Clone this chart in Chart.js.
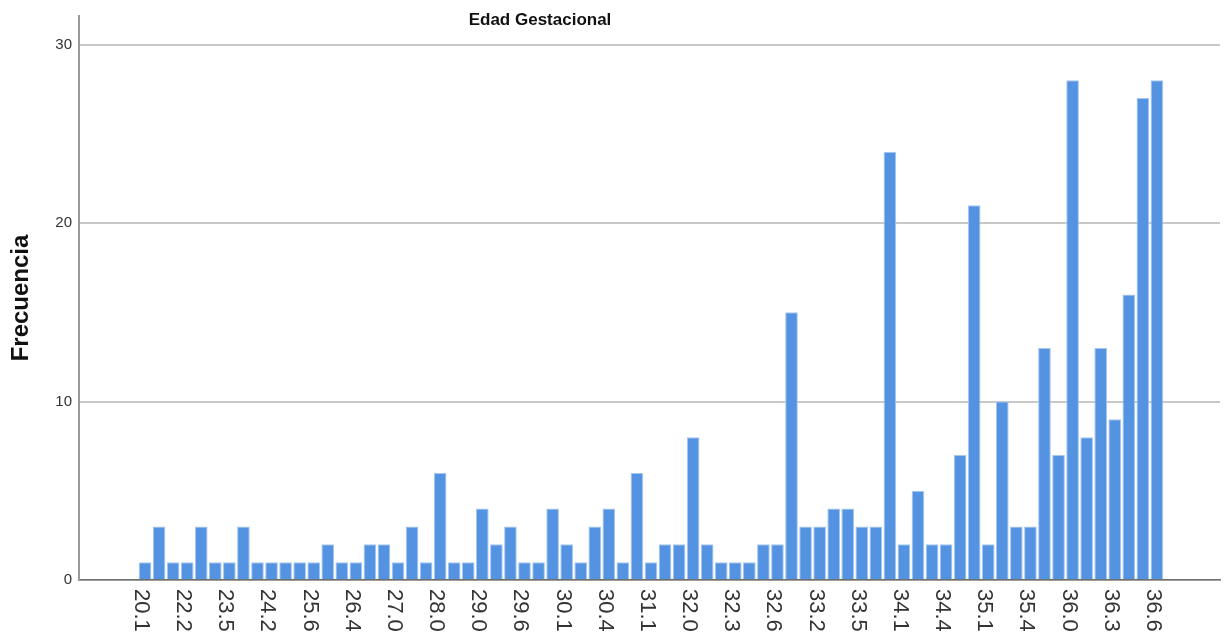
<!DOCTYPE html>
<html>
<head>
<meta charset="utf-8">
<script src="https://cdn.jsdelivr.net/npm/chart.js@4/dist/chart.umd.min.js"></script>
<style>
  body { margin: 0; background: #fff; }
</style>
</head>
<body>
<canvas id="edad-chart" width="1228" height="635"></canvas>
<script>
// edad gestacional (semanas) - solo se ve una de cada tres en el eje
const edades = [
  '20.1', '21.0', '21.4', '22.2', '22.5', '23.0', '23.5', '23.6', '24.0', '24.2',
  '24.5', '25.0', '25.6', '26.0', '26.2', '26.4', '26.5', '26.6', '27.0', '27.3',
  '27.5', '28.0', '28.3', '28.5', '29.0', '29.2', '29.4', '29.6', '29.8', '30.0',
  '30.1', '30.2', '30.3', '30.4', '30.5', '31.0', '31.1', '31.3', '31.5', '32.0',
  '32.1', '32.2', '32.3', '32.4', '32.5', '32.6', '33.0', '33.1', '33.2', '33.3',
  '33.4', '33.5', '33.6', '34.0', '34.1', '34.2', '34.3', '34.4', '34.6', '35.0',
  '35.1', '35.2', '35.3', '35.4', '35.5', '35.6', '36.0', '36.1', '36.2', '36.3',
  '36.4', '36.5', '36.6'
];
const frecuencias = [
  1, 3, 1, 1, 3, 1, 1, 3, 1, 1,
  1, 1, 1, 2, 1, 1, 2, 2, 1, 3,
  1, 6, 1, 1, 4, 2, 3, 1, 1, 4,
  2, 1, 3, 4, 1, 6, 1, 2, 2, 8,
  2, 1, 1, 1, 2, 2, 15, 3, 3, 4,
  4, 3, 3, 24, 2, 5, 2, 2, 7, 21,
  2, 10, 3, 3, 13, 7, 28, 8, 13, 9,
  16, 27, 28
];
const yTicks = [0, 10, 20, 30];
const cadaN = 3;
const tituloGrafico = 'Edad Gestacional';
const tituloEjeY = 'Frecuencia';

const fuente = '"Liberation Sans", Arial, sans-serif';

// etiquetas del eje x giradas hacia abajo + titulo
const textosExtra = {
  id: 'textosExtra',
  afterDraw(chart) {
    const { ctx } = chart;
    const x = chart.scales.x;
    ctx.save();
    ctx.font = '22px ' + fuente;
    ctx.fillStyle = '#333';
    ctx.textAlign = 'left';
    ctx.textBaseline = 'middle';
    edades.forEach((edad, i) => {
      if (i % cadaN !== 0) return;
      ctx.save();
      ctx.translate(x.getPixelForValue(i) - 4, x.top + 9);
      ctx.rotate(Math.PI / 2);
      ctx.fillText(edad, 0, 0);
      ctx.restore();
    });

    ctx.font = 'bold 17px ' + fuente;
    ctx.fillStyle = '#111';
    ctx.textAlign = 'center';
    ctx.fillText(tituloGrafico, 540, 20);
    ctx.restore();
  }
};

const ctx = document.getElementById('edad-chart').getContext('2d');
new Chart(ctx, {
  type: 'bar',
  data: {
    datasets: [{
      label: tituloEjeY,
      data: frecuencias.map((v, i) => ({ x: i, y: v })),
      backgroundColor: '#5393e2',
      borderColor: '#a6c6ef',
      borderWidth: 1,
      barPercentage: 0.9,
      categoryPercentage: 1
    }]
  },
  options: {
    responsive: false,
    animation: false,
    layout: { padding: { top: 15, right: 8, left: 0, bottom: 0 } },
    plugins: {
      legend: { display: false },
      tooltip: { enabled: false }
    },
    scales: {
      x: {
        type: 'linear',
        offset: false,
        min: -4.7,
        max: 76.49,
        ticks: { display: false },
        grid: { display: false },
        border: { color: '#707070', width: 1.5 },
        afterFit: (s) => { s.height = 55; }
      },
      y: {
        min: 0,
        max: 31.6,
        afterBuildTicks: (s) => { s.ticks = yTicks.map((v) => ({ value: v })); },
        afterFit: (s) => { s.width = 79; },
        ticks: {
          padding: 7,
          color: '#333',
          font: { family: fuente, size: 15 }
        },
        grid: { color: '#c8c8c8', lineWidth: 2, drawTicks: false },
        border: { color: '#9a9a9a', width: 2 },
        title: {
          display: true,
          text: tituloEjeY,
          color: '#111',
          padding: { top: 7, bottom: 0 },
          font: { family: fuente, size: 24, weight: 'bold' }
        }
      }
    }
  },
  plugins: [textosExtra]
});
</script>
</body>
</html>
